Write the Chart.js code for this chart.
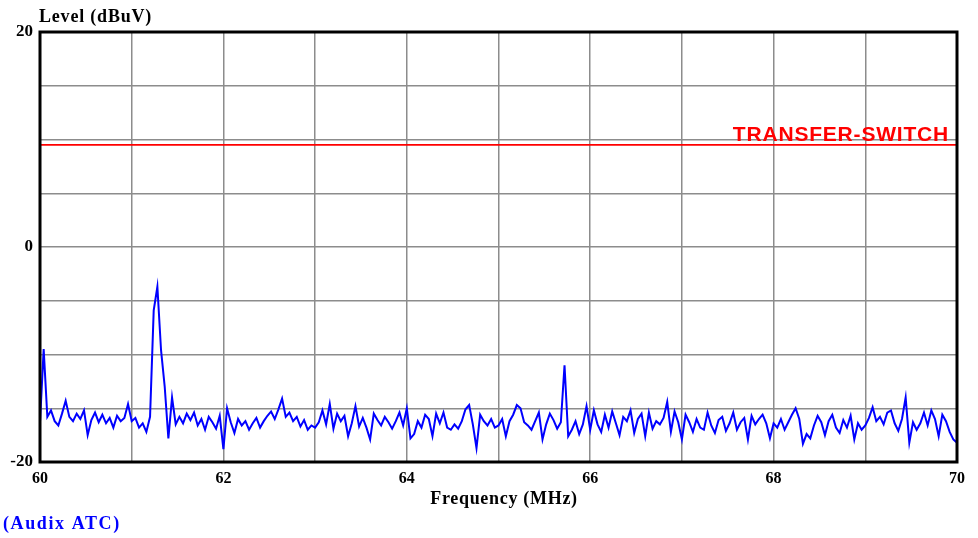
<!DOCTYPE html>
<html>
<head>
<meta charset="utf-8">
<script src="https://cdn.jsdelivr.net/npm/chart.js@4/dist/chart.umd.min.js"></script>
<style>
  html, body { margin: 0; padding: 0; background: #fff; }
  #wrap { width: 978px; height: 538px; }
</style>
</head>
<body>
<div id="wrap"><canvas id="spectrum"></canvas></div>
<script>
// frequency axis (MHz) - sweep from 60 to 70 in 0.04 steps
const freqStart = 60;
const freqStep = 0.04;

// measured level (dBuV), one row per MHz
const levels = [
  -16.3, -9.5, -15.8, -15.2, -16.2, -16.6, -15.5, -14.3, -15.8, -16.2, -15.5, -16.0, -15.2, -17.5, -16.1, -15.4, -16.3, -15.6, -16.4, -15.9, -16.8, -15.7, -16.2, -15.9, -14.6,
  -16.2, -15.9, -16.8, -16.4, -17.2, -15.8, -5.9, -3.7, -9.6, -13.0, -17.8, -14.0, -16.5, -15.8, -16.4, -15.5, -16.1, -15.4, -16.6, -16.0, -17.0, -15.8, -16.3, -16.9, -15.7,
  -18.8, -15.0, -16.3, -17.3, -16.0, -16.6, -16.2, -17.0, -16.4, -15.9, -16.8, -16.2, -15.7, -15.3, -16.0, -15.1, -14.1, -15.8, -15.4, -16.2, -15.8, -16.7, -16.1, -17.0, -16.6,
  -16.8, -16.3, -15.2, -16.5, -14.6, -16.9, -15.5, -16.2, -15.7, -17.6, -16.4, -14.8, -16.7, -15.9, -16.8, -17.9, -15.5, -16.1, -16.6, -15.8, -16.3, -16.9, -16.2, -15.4, -16.6,
  -15.0, -17.8, -17.4, -16.2, -16.8, -15.6, -16.0, -17.6, -15.5, -16.4, -15.4, -16.8, -17.0, -16.5, -16.9, -16.2, -15.1, -14.7, -16.5, -18.7, -15.6, -16.2, -16.6, -16.0, -16.8,
  -16.6, -16.0, -17.6, -16.2, -15.6, -14.7, -15.0, -16.3, -16.6, -17.0, -16.2, -15.4, -17.9, -16.5, -15.5, -16.1, -16.9, -16.3, -11.0, -17.6, -17.0, -16.2, -17.4, -16.5, -14.8,
  -17.0, -15.2, -16.5, -17.2, -15.6, -16.8, -15.3, -16.4, -17.5, -15.8, -16.2, -15.2, -17.3, -16.0, -15.5, -17.6, -15.4, -16.9, -16.2, -16.5, -15.9, -14.4, -17.2, -15.3, -16.3,
  -17.9, -15.6, -16.3, -17.2, -16.0, -16.8, -17.0, -15.4, -16.6, -17.3, -16.1, -15.8, -17.1, -16.4, -15.4, -17.0, -16.3, -15.9, -17.9, -15.7, -16.5, -16.0, -15.6, -16.4, -17.8,
  -16.4, -16.8, -16.0, -17.0, -16.3, -15.6, -15.0, -16.0, -18.3, -17.4, -17.8, -16.6, -15.7, -16.3, -17.5, -16.2, -15.6, -16.8, -17.3, -16.1, -16.8, -15.7, -17.9, -16.4, -17.0,
  -16.6, -15.9, -14.9, -16.2, -15.8, -16.5, -15.4, -15.2, -16.4, -17.1, -16.0, -14.0, -18.2, -16.3, -17.0, -16.4, -15.4, -16.6, -15.2, -16.0, -17.6, -15.6, -16.2, -17.2, -17.9,
  -18.2
];

// limit line
const limitName = 'TRANSFER-SWITCH';
const limitLevel = 9.5;
const limitFreqs = [60, 70];

// axis ticks shown as labels
const xTickLabels = [60, 62, 64, 66, 68, 70];
const yTickLabels = [20, 0, -20];

const tracePoints = levels.map((v, i) => ({ x: +(freqStart + i * freqStep).toFixed(2), y: v }));
const limitPoints = limitFreqs.map(f => ({ x: f, y: limitLevel }));

// draws the frame, the axis titles and the limit name
const decorations = {
  id: 'decorations',
  afterDraw(chart) {
    const { ctx, chartArea: a } = chart;
    ctx.save();
    ctx.strokeStyle = '#000';
    ctx.lineWidth = 3;
    ctx.strokeRect(a.left, a.top, a.right - a.left, a.bottom - a.top);

    ctx.fillStyle = '#000';
    ctx.font = 'bold 18px "Liberation Serif"';
    ctx.textBaseline = 'alphabetic';
    ctx.textAlign = 'left';
    ctx.letterSpacing = '0.8px';
    ctx.fillText('Level (dBuV)', 39, 22);
    ctx.letterSpacing = '0.7px';
    ctx.textAlign = 'center';
    ctx.fillText('Frequency (MHz)', 504, 504);

    ctx.fillStyle = '#0000ff';
    ctx.textAlign = 'left';
    ctx.font = 'bold 18px "Liberation Serif"';
    ctx.letterSpacing = '1.6px';
    ctx.fillText('(Audix ATC)', 3, 529);

    const yLim = chart.scales.y.getPixelForValue(limitLevel);
    ctx.fillStyle = '#ff0000';
    ctx.textAlign = 'right';
    ctx.font = 'bold 21px "Liberation Sans"';
    ctx.letterSpacing = '0.8px';
    ctx.fillText(limitName, a.right - 8, yLim - 4);
    ctx.restore();
  }
};

new Chart(document.getElementById('spectrum'), {
  type: 'line',
  data: {
    datasets: [{
      label: 'Level',
      data: tracePoints,
      borderColor: '#0000ff',
      borderWidth: 2,
      pointRadius: 0,
      tension: 0
    }, {
      label: limitName,
      data: limitPoints,
      borderColor: '#ff0000',
      borderWidth: 1.6,
      pointRadius: 0
    }]
  },
  options: {
    responsive: true,
    maintainAspectRatio: false,
    animation: false,
    layout: { padding: { top: 32, right: 21, left: 0, bottom: 0 } },
    plugins: { legend: { display: false }, tooltip: { enabled: false } },
    scales: {
      x: {
        type: 'linear',
        min: 60,
        max: 70,
        afterFit(s) { s.height = 76; s.paddingLeft = 0; s.paddingRight = 0; },
        ticks: {
          stepSize: 1,
          maxRotation: 0,
          autoSkip: false,
          padding: 7,
          color: '#000',
          font: { family: 'Liberation Serif', weight: 'bold', size: 16 },
          callback: v => xTickLabels.includes(v) ? String(v) : ''
        },
        grid: { color: '#8c8c8c', lineWidth: 1.5, drawTicks: false },
        border: { display: false }
      },
      y: {
        min: -20,
        max: 20,
        afterFit(s) { s.width = 40; s.paddingTop = 0; s.paddingBottom = 0; },
        ticks: {
          stepSize: 5,
          autoSkip: false,
          padding: 7,
          color: '#000',
          font: { family: 'Liberation Serif', weight: 'bold', size: 17 },
          callback: v => yTickLabels.includes(v) ? String(v) : ''
        },
        grid: { color: '#8c8c8c', lineWidth: 1.5, drawTicks: false },
        border: { display: false }
      }
    }
  },
  plugins: [decorations]
});
</script>
</body>
</html>
